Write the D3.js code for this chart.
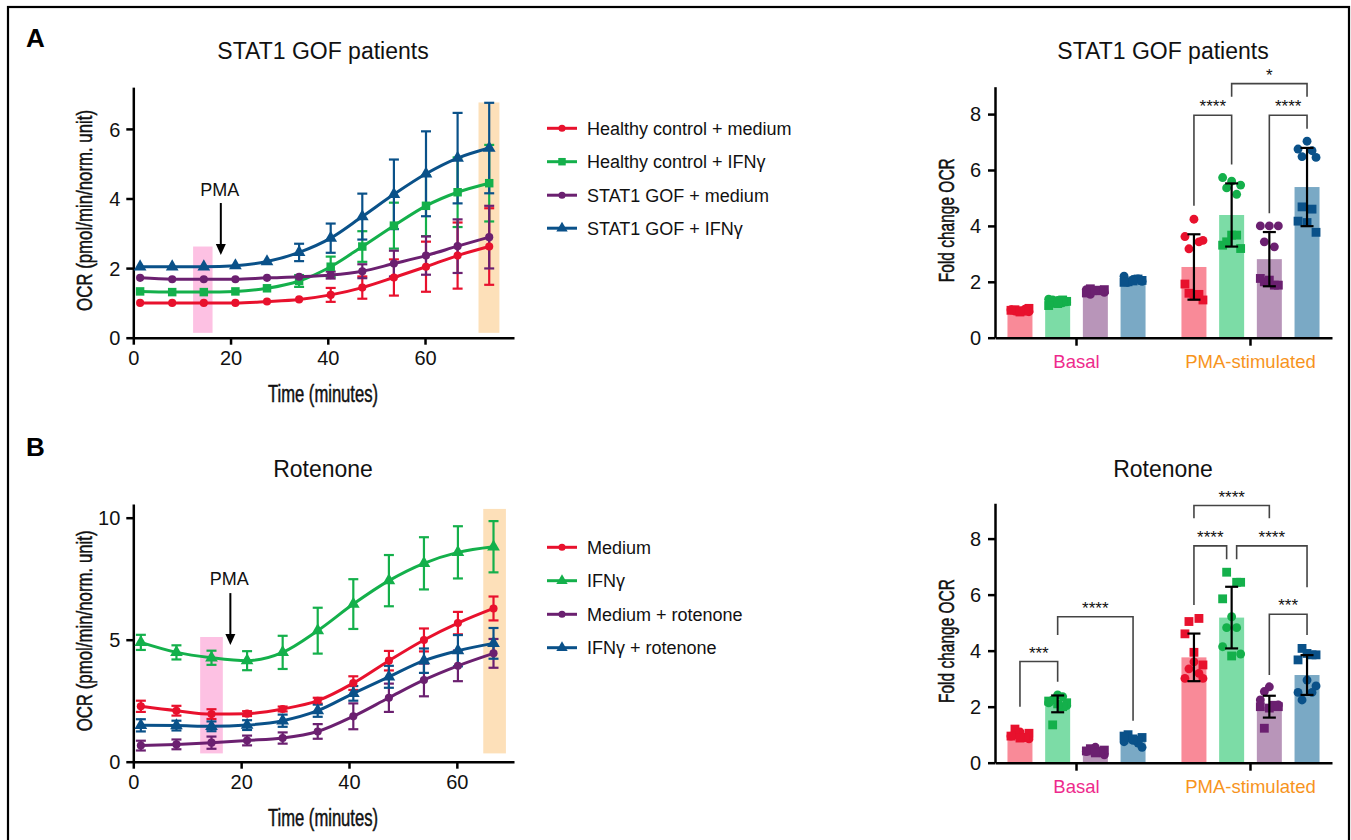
<!DOCTYPE html>
<html><head><meta charset="utf-8">
<script src="https://cdn.jsdelivr.net/npm/d3@7"></script>
<style>body{margin:0;background:#fff}</style>
</head><body>
<svg id="c" width="1351" height="840"></svg>
<script>
// ---------------- DATA ----------------
// Panel A line chart
const timeA = [1.4, 8.0, 14.5, 21.0, 27.5, 34.1, 40.6, 47.1, 53.6, 60.2, 66.7, 73.2];
const namesA = ["Healthy control + medium", "Healthy control + IFNγ", "STAT1 GOF + medium", "STAT1 GOF + IFNγ"];
const hcMediumA = [1.00, 1.00, 1.00, 1.00, 1.04, 1.10, 1.23, 1.44, 1.73, 2.04, 2.36, 2.62];
const hcMediumErrA = [0.03, 0.03, 0.03, 0.03, 0.04, 0.06, 0.20, 0.32, 0.52, 0.72, 0.95, 1.10];
const hcIfngA = [1.33, 1.31, 1.31, 1.33, 1.42, 1.63, 2.04, 2.62, 3.22, 3.79, 4.18, 4.44];
const hcIfngErrA = [0.05, 0.05, 0.05, 0.05, 0.06, 0.17, 0.29, 0.44, 0.66, 0.87, 1.00, 1.10];
const gofMediumA = [1.72, 1.68, 1.68, 1.68, 1.72, 1.75, 1.80, 1.91, 2.13, 2.36, 2.63, 2.89];
const gofMediumErrA = [0.05, 0.05, 0.05, 0.05, 0.05, 0.06, 0.10, 0.20, 0.37, 0.55, 0.77, 0.90];
const gofIfngA = [2.04, 2.04, 2.04, 2.07, 2.19, 2.45, 2.86, 3.48, 4.12, 4.71, 5.16, 5.45];
const gofIfngErrA = [0.05, 0.05, 0.05, 0.05, 0.06, 0.25, 0.42, 0.66, 1.00, 1.22, 1.30, 1.30];
const yTicksLineA = [0, 2, 4, 6];
const xTicksLine = [0, 20, 40, 60];
const highlightA = [[12.3, 16.3, 0.14, 2.62], [71.0, 75.3, 0.14, 6.76]]; // [t0, t1, y0, y1]
const pmaA = [18.0, 2.38, 3.87, 4.07]; // [time, arrow tip, arrow tail, label baseline]

// Panel B line chart
const timeB = [1.4, 8.0, 14.5, 21.1, 27.7, 34.2, 40.8, 47.4, 53.9, 60.2, 66.8];
const namesB = ["Medium", "IFNγ", "Medium + rotenone", "IFNγ + rotenone"];
const mediumB = [2.27, 2.09, 1.95, 1.97, 2.16, 2.50, 3.22, 4.14, 4.99, 5.68, 6.28];
const mediumErrB = [0.23, 0.20, 0.20, 0.10, 0.10, 0.12, 0.28, 0.40, 0.47, 0.46, 0.49];
const ifngB = [4.89, 4.48, 4.26, 4.14, 4.48, 5.37, 6.46, 7.42, 8.13, 8.58, 8.81];
const ifngErrB = [0.31, 0.29, 0.29, 0.39, 0.68, 0.94, 1.02, 1.05, 1.07, 1.07, 1.05];
const medRotB = [0.66, 0.71, 0.78, 0.87, 0.97, 1.24, 1.86, 2.62, 3.35, 3.93, 4.44];
const medRotErrB = [0.20, 0.20, 0.25, 0.20, 0.23, 0.30, 0.53, 0.58, 0.67, 0.63, 0.59];
const ifngRotB = [1.49, 1.48, 1.45, 1.50, 1.68, 2.09, 2.80, 3.48, 4.14, 4.55, 4.85];
const ifngRotErrB = [0.25, 0.20, 0.20, 0.20, 0.25, 0.25, 0.30, 0.45, 0.50, 0.64, 0.63];
const yTicksLineB = [0, 5, 10];
const highlightB = [[12.4, 16.6, 0.34, 5.11], [64.9, 69.1, 0.34, 10.36]];
const pmaB = [18.0, 4.78, 6.91, 7.24];

// Bar charts
const barGroups = ["Basal", "PMA-stimulated"];
const barConds = ["c1", "c2", "c3", "c4"];
const yTicksBar = [0, 2, 4, 6, 8];
const meansA = [0.92, 1.28, 1.68, 2.05, 2.53, 4.39, 2.81, 5.39];
const sdA = [0, 0, 0, 0, 1.17, 1.13, 0.97, 1.40];
const circlesA = [
  [1.00, 0.97, 0.93, 0.95, 1.02], [1.38, 1.33, 1.28, 1.35, 1.25], [1.72, 1.68, 1.62, 1.55, 1.70], [2.20, 2.08, 2.02, 1.98, 2.10],
  [3.62, 4.24, 3.48, 3.18, 3.43], [5.73, 5.60, 5.46, 5.36, 5.13], [4.00, 4.00, 4.00, 3.43, 3.25], [6.75, 7.03, 6.45, 6.48, 6.69]
];
const squaresA = [
  [1.05, 1.00, 0.95, 0.98, 0.92], [1.30, 1.25, 1.35, 1.15, 1.22], [1.72, 1.75, 1.68, 1.60, 1.70], [2.05, 2.00, 2.10, 1.98, 2.03],
  [1.35, 1.59, 1.55, 1.92, 1.49], [3.19, 3.43, 3.67, 3.31, 3.67], [1.88, 2.00, 1.88, 2.12, 2.06], [3.77, 4.68, 4.60, 4.17, 4.12]
];
const bracketsA = [ // [barIndex1, barIndex2, lineY, leftLegY, rightLegY, label]
  [5, 7, 9.09, 8.62, 8.62, "*"],
  [4, 5, 7.96, 4.72, 6.20, "****"],
  [6, 7, 7.96, 4.45, 7.48, "****"]
];
const meansB = [0.85, 2.10, 0.42, 0.82, 3.76, 5.18, 2.00, 3.13];
const sdB = [0, 0.30, 0, 0, 0.85, 1.10, 0.39, 0.71];
const circlesB = [
  [0.95, 1.10, 0.85, 1.00, 0.90], [2.14, 2.42, 2.04, 2.24, 2.36], [0.40, 0.55, 0.28, 0.45, 0.35], [0.75, 0.80, 0.55, 0.90, 0.70],
  [3.01, 3.60, 3.01, 3.35, 3.19], [4.14, 5.21, 3.88, 4.82, 4.82], [2.24, 2.71, 2.06, 2.54, 2.00], [2.51, 2.95, 2.74, 2.24, 2.51]
];
const squaresB = [
  [1.05, 1.20, 0.90, 0.95, 0.88], [2.14, 1.35, 2.00, 2.20, 2.10], [0.45, 0.50, 0.40, 0.42, 0.35], [0.90, 1.00, 0.80, 0.95, 0.85],
  [3.49, 5.04, 5.15, 4.60, 3.94], [6.44, 6.80, 6.44, 5.85, 3.81], [2.00, 1.23, 2.05, 2.00, 1.95], [3.85, 4.08, 3.85, 3.67, 3.90]
];
const bracketsB = [
  [0, 1, 3.61, 2.00, 2.89, "***"],
  [1, 3, 5.21, 4.56, 1.50, "****"],
  [4, 6, 9.18, 8.73, 8.73, "****"],
  [4, 5, 7.74, 5.63, 7.26, "****"],
  [5, 7, 7.74, 7.26, 6.26, "****"],
  [6, 7, 5.30, 3.13, 4.56, "***"]
];

// ---------------- STYLE ----------------
const lineColors = ["#e8112d", "#14b04b", "#6b2070", "#0a5189"];
const barFills = ["#f98a98", "#7cdca6", "#b895b9", "#7aa9c5"];
const FONT = "'Liberation Sans', Arial, Helvetica, sans-serif";
const NARROW = "'Liberation Sans Narrow', 'Liberation Sans', Arial, sans-serif";

const svg = d3.select("#c");
svg.append("rect").attr("width", 1351).attr("height", 840).attr("fill", "#fff");
svg.append("rect").attr("x", 8).attr("y", 7).attr("width", 1341).attr("height", 880)
  .attr("fill", "none").attr("stroke", "#000").attr("stroke-width", 2.2);

function txt(g, x, y, s, size, opts = {}) {
  const t = g.append("text").attr("x", x).attr("y", y).text(s)
    .attr("font-family", opts.family || FONT).attr("font-size", size)
    .attr("fill", opts.fill || "#111").attr("text-anchor", opts.anchor || "middle");
  if (opts.weight) t.attr("font-weight", opts.weight);
  if (opts.len) t.attr("textLength", opts.len).attr("lengthAdjust", "spacingAndGlyphs");
  if (opts.rotate) t.attr("transform", `rotate(-90,${x},${y})`);
  if (opts.heavy) t.attr("stroke", opts.fill || "#111").attr("stroke-width", opts.heavy);
  return t;
}
function styleAxis(g) {
  g.select(".domain").attr("stroke", "#000").attr("stroke-width", 2.5);
  g.selectAll(".tick line").attr("stroke", "#000").attr("stroke-width", 2.5);
  g.selectAll(".tick text").attr("font-family", FONT).attr("font-size", 20).attr("fill", "#111");
}
function sym(shape, size) {
  const t = { circle: d3.symbolCircle, square: d3.symbolSquare, triangle: d3.symbolTriangle }[shape];
  return d3.symbol().type(t).size(size)();
}

// ---------------- LINE CHART ----------------
function lineChart(cfg) {
  const g = svg.append("g");
  const x = d3.scaleLinear().domain([0, cfg.xMax]).range([133.3, 514]);
  const y = d3.scaleLinear().domain([0, cfg.yMax]).range([cfg.yBase, cfg.yTop]);
  const hcol = ["#fdc1e3", "#fde0b9"];
  cfg.highlight.forEach((h, i) => {
    g.append("rect").attr("x", x(h[0])).attr("width", x(h[1]) - x(h[0]))
      .attr("y", y(h[3])).attr("height", y(h[2]) - y(h[3])).attr("fill", hcol[i]);
  });
  const ax = g.append("g").attr("transform", `translate(0,${cfg.yBase})`)
    .call(d3.axisBottom(x).tickValues(xTicksLine).tickSize(7).tickSizeOuter(0).tickPadding(6));
  styleAxis(ax);
  const ay = g.append("g").attr("transform", `translate(133.3,0)`)
    .call(d3.axisLeft(y).tickValues(cfg.yTicks).tickSize(7).tickSizeOuter(0).tickPadding(6));
  styleAxis(ay);
  ay.selectAll(".tick text").attr("dy", "0.36em");
  cfg.series.forEach((s, i) => {
    const col = lineColors[i];
    const eg = g.append("g").attr("stroke", col).attr("stroke-width", 2.2).attr("fill", "none");
    s.vals.forEach((v, k) => {
      const e = s.errs[k], xx = x(cfg.times[k]);
      if (e < 0.08) return;
      eg.append("line").attr("x1", xx).attr("x2", xx).attr("y1", y(v - e)).attr("y2", y(v + e));
      eg.append("line").attr("x1", xx - 5).attr("x2", xx + 5).attr("y1", y(v - e)).attr("y2", y(v - e));
      eg.append("line").attr("x1", xx - 5).attr("x2", xx + 5).attr("y1", y(v + e)).attr("y2", y(v + e));
    });
  });
  cfg.series.forEach((s, i) => {
    const col = lineColors[i];
    const line = d3.line().x((d, k) => x(cfg.times[k])).y(d => y(d)).curve(d3.curveMonotoneX);
    g.append("path").attr("d", line(s.vals)).attr("fill", "none").attr("stroke", col).attr("stroke-width", 3);
    s.vals.forEach((v, k) => {
      const size = s.shape === "circle" ? 52 : s.shape === "square" ? 72 : 70;
      g.append("path").attr("d", sym(s.shape, size))
        .attr("transform", `translate(${x(cfg.times[k])},${y(v)})`).attr("fill", col);
    });
  });
  const p = cfg.pma, px = x(p[0]);
  g.append("line").attr("x1", px).attr("x2", px).attr("y1", y(p[2])).attr("y2", y(p[1]) - 8)
    .attr("stroke", "#000").attr("stroke-width", 2);
  g.append("path").attr("d", `M${px - 5},${y(p[1]) - 11} L${px + 5},${y(p[1]) - 11} L${px},${y(p[1])} Z`).attr("fill", "#000");
  txt(g, px - 1, y(p[3]), "PMA", 18);
  txt(g, 323, cfg.titleY, cfg.title, 23);
  txt(g, 323, cfg.yBase + 64, "Time (minutes)", 23, { family: NARROW, len: 110, heavy: 0.5 });
  txt(g, 92, (cfg.yBase + cfg.yTop) / 2 - 2, "OCR (pmol/min/norm. unit)", 22.5, { family: NARROW, len: 201, rotate: true, heavy: 0.5 });
  cfg.series.forEach((s, i) => {
    const ly = cfg.legendY[i];
    g.append("line").attr("x1", 547).attr("x2", 577).attr("y1", ly).attr("y2", ly)
      .attr("stroke", lineColors[i]).attr("stroke-width", 3);
    const size = s.shape === "circle" ? 40 : 56;
    g.append("path").attr("d", sym(s.shape, size)).attr("transform", `translate(562,${ly})`).attr("fill", lineColors[i]);
    txt(g, 587, ly + 6.5, s.name, 18, { anchor: "start" });
  });
}

// ---------------- BAR CHART ----------------
function barChart(cfg) {
  const g = svg.append("g");
  const y = d3.scaleLinear().domain([0, cfg.yMax]).range([cfg.yBase, cfg.yTop]);
  const xg = d3.scaleBand().domain(barGroups).range([995, 1332]).paddingInner(0.15).paddingOuter(0.0435);
  const xi = d3.scaleBand().domain(barConds).range([0, xg.bandwidth()]).paddingInner(0.337).paddingOuter(0.13);
  const bx = i => xg(barGroups[Math.floor(i / 4)]) + xi(barConds[i % 4]);
  const bc = i => bx(i) + xi.bandwidth() / 2;
  const n = cfg.means.length;
  for (let i = 0; i < n; i++) {
    g.append("rect").attr("x", bx(i)).attr("width", xi.bandwidth())
      .attr("y", y(cfg.means[i])).attr("height", cfg.yBase - y(cfg.means[i])).attr("fill", barFills[i % 4]);
  }
  const jit = [-9, 0, 9, -5, 5];
  for (let i = 0; i < n; i++) {
    const col = lineColors[i % 4];
    cfg.circles[i].forEach((v, k) => {
      g.append("path").attr("d", sym("circle", 62)).attr("transform", `translate(${bc(i) + jit[k]},${y(v)})`).attr("fill", col);
    });
    cfg.squares[i].forEach((v, k) => {
      g.append("path").attr("d", sym("square", 78)).attr("transform", `translate(${bc(i) + jit[(k + 2) % 5]},${y(v)})`).attr("fill", col);
    });
  }
  const eg = g.append("g").attr("stroke", "#000").attr("stroke-width", 2.2);
  for (let i = 0; i < n; i++) {
    const m = cfg.means[i], s = cfg.sd[i], c = bc(i);
    if (s <= 0) continue;
    eg.append("line").attr("x1", c).attr("x2", c).attr("y1", y(m - s)).attr("y2", y(m + s));
    eg.append("line").attr("x1", c - 6.5).attr("x2", c + 6.5).attr("y1", y(m - s)).attr("y2", y(m - s));
    eg.append("line").attr("x1", c - 6.5).attr("x2", c + 6.5).attr("y1", y(m + s)).attr("y2", y(m + s));
  }
  const ay = g.append("g").attr("transform", `translate(995,0)`)
    .call(d3.axisLeft(y).tickValues(yTicksBar).tickSize(7).tickSizeOuter(0).tickPadding(7));
  styleAxis(ay);
  const ax = g.append("g").attr("transform", `translate(0,${cfg.yBase})`)
    .call(d3.axisBottom(xg).tickSize(8).tickSizeOuter(0).tickFormat(""));
  styleAxis(ax);
  const gcol = ["#ee2a8c", "#f7941d"];
  barGroups.forEach((gr, i) => {
    txt(g, xg(gr) + xg.bandwidth() / 2, cfg.yBase + 30, gr, 18.5, { fill: gcol[i] });
  });
  const bg = g.append("g").attr("stroke", "#444").attr("stroke-width", 1.6).attr("fill", "none");
  cfg.brackets.forEach((b, k) => {
    let x1 = bc(b[0]), x2 = bc(b[1]);
    cfg.brackets.forEach((o, j) => {
      if (j === k || Math.abs(o[2] - b[2]) > 0.05) return;
      if (o[0] === b[1]) x2 -= 5;
      if (o[1] === b[0]) x1 += 5;
    });
    bg.append("path").attr("d", `M${x1},${y(b[3])} V${y(b[2])} H${x2} V${y(b[4])}`);
    txt(g, (x1 + x2) / 2, y(b[2]) - 3, b[5], 17, { fill: "#111" });
  });
  txt(g, 1163, cfg.titleY, cfg.title, 23);
  txt(g, 954, (cfg.yBase + cfg.yTop) / 2 + 8, "Fold change OCR", 22.5, { family: NARROW, len: 124, rotate: true, heavy: 0.5 });
}

// ---------------- DRAW ----------------
txt(svg, 26, 47, "A", 26, { anchor: "start", weight: "bold", fill: "#000" });
txt(svg, 26, 456, "B", 26, { anchor: "start", weight: "bold", fill: "#000" });

const shapesA = ["circle", "square", "circle", "triangle"];
lineChart({
  xMax: 78.3, yMax: 7.2, yBase: 337.7, yTop: 337.7 - 7.2 * 34.8, yTicks: yTicksLineA, times: timeA,
  highlight: highlightA, pma: pmaA, title: "STAT1 GOF patients", titleY: 59,
  legendY: [128.3, 161.7, 195.2, 228.2],
  series: [hcMediumA, hcIfngA, gofMediumA, gofIfngA].map((v, i) => ({
    name: namesA[i], vals: v, errs: [hcMediumErrA, hcIfngErrA, gofMediumErrA, gofIfngErrA][i], shape: shapesA[i] }))
});
const shapesB = ["circle", "triangle", "circle", "triangle"];
lineChart({
  xMax: 70.6, yMax: 10.56, yBase: 761.7, yTop: 761.7 - 10.56 * 24.4, yTicks: yTicksLineB, times: timeB,
  highlight: highlightB, pma: pmaB, title: "Rotenone", titleY: 477,
  legendY: [547.3, 580.7, 614.3, 647.7],
  series: [mediumB, ifngB, medRotB, ifngRotB].map((v, i) => ({
    name: namesB[i], vals: v, errs: [mediumErrB, ifngErrB, medRotErrB, ifngRotErrB][i], shape: shapesB[i] }))
});
barChart({ yMax: 8.98, yBase: 337.7, yTop: 86.7, means: meansA, sd: sdA, circles: circlesA, squares: squaresA,
  brackets: bracketsA, title: "STAT1 GOF patients", titleY: 59 });
barChart({ yMax: 9.26, yBase: 762.7, yTop: 503.3, means: meansB, sd: sdB, circles: circlesB, squares: squaresB,
  brackets: bracketsB, title: "Rotenone", titleY: 477 });
</script>
</body></html>
